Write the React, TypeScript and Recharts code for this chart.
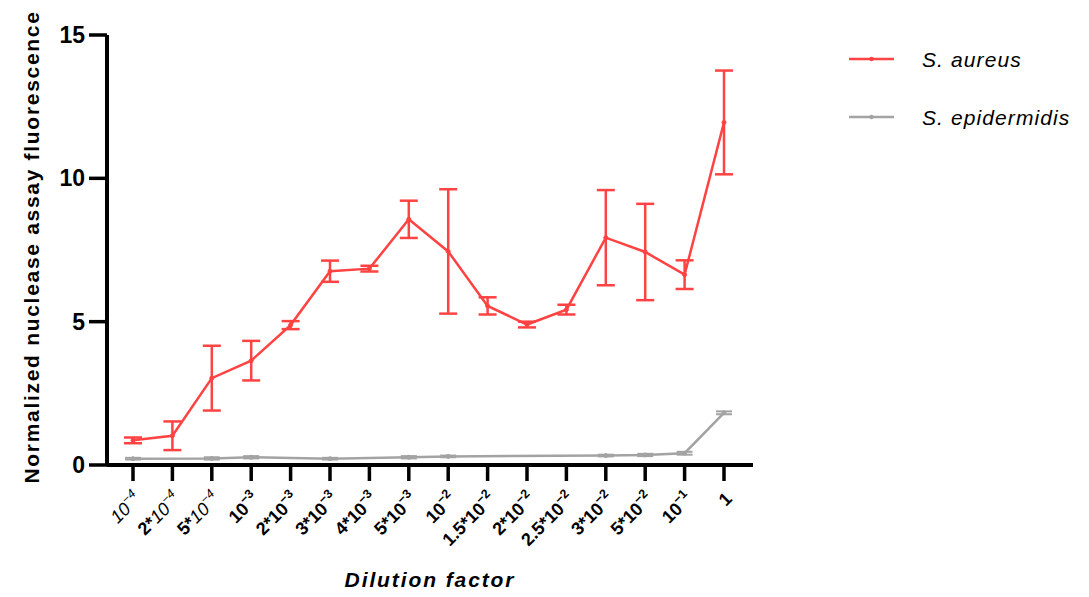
import React from 'react';
import { LineChart, Line, XAxis, YAxis, ErrorBar, Legend } from 'recharts';

const categories = ['10^-4', '2*10^-4', '5*10^-4', '10^-3', '2*10^-3', '3*10^-3', '4*10^-3', '5*10^-3', '10^-2', '1.5*10^-2', '2*10^-2', '2.5*10^-2', '3*10^-2', '5*10^-2', '10^-1', '1'];
const aureus = [0.86, 1.02, 3.03, 3.64, 4.88, 6.76, 6.85, 8.57, 7.45, 5.55, 4.9, 5.42, 7.93, 7.43, 6.64, 11.95];
const aureusErr = [0.1, 0.5, 1.13, 0.69, 0.14, 0.37, 0.1, 0.65, 2.17, 0.3, 0.1, 0.17, 1.66, 1.68, 0.5, 1.81];
const epidermidis = [0.22, null, 0.23, 0.27, null, 0.22, null, 0.27, 0.3, null, null, null, 0.33, 0.35, 0.41, 1.82];
const epidermidisErr = [0.03, null, 0.04, 0.04, null, 0.03, null, 0.04, 0.03, null, null, null, 0.03, 0.04, 0.05, 0.05];
const yTicks = [0, 5, 10, 15];

const RED = '#ff4242';
const GRAY = '#a3a3a3';
const FONT = '"Liberation Sans", Arial, Helvetica, sans-serif';

const data = categories.map((c, i) => ({
  cat: c,
  aureus: aureus[i],
  aureusErr: aureusErr[i],
  epidermidis: epidermidis[i],
  epidermidisErr: epidermidisErr[i],
}));

const XTick = (props: any) => {
  const { x, y, payload } = props;
  const lab: string = payload.value;
  let prefix = '';
  let base = lab;
  let exp = '';
  if (lab.includes('^')) {
    const [left, e] = lab.split('^');
    exp = e.replace('-', '\u2212');
    if (left.includes('*')) {
      const idx = left.indexOf('*');
      prefix = left.slice(0, idx + 1);
      base = left.slice(idx + 1);
    } else {
      base = left;
    }
  }
  const light = lab.endsWith('-4');
  return (
    <g transform={`translate(${x + 9},${y + 17})`}>
      <text
        textAnchor="end"
        transform="rotate(-45)"
        fontFamily={FONT}
        fontSize={18}
        fontWeight="bold"
        fill="#000"
      >
        {prefix && <tspan>{prefix}</tspan>}
        <tspan fontWeight={light ? 'normal' : 'bold'} fontStyle={light ? 'italic' : 'normal'}>{base}</tspan>
        {exp && (
          <tspan dy={-8} fontSize={12.5} fontWeight={light ? 'normal' : 'bold'} fontStyle={light ? 'italic' : 'normal'}>
            {exp}
          </tspan>
        )}
      </text>
    </g>
  );
};

const YTick = (props: any) => {
  const { x, y, payload } = props;
  return (
    <text x={x} y={y + 8} textAnchor="end" fontFamily={FONT} fontSize={23} fontWeight="bold" fill="#000">
      {payload.value}
    </text>
  );
};

const LegendContent = (props: any) => {
  const payload = props.payload || [];
  return (
    <svg width={250} height={110} style={{ overflow: 'visible' }}>
      {payload.map((p: any, i: number) => {
        const cy = 26 + i * 58;
        return (
          <g key={p.value}>
            <line x1={6} x2={51} y1={cy} y2={cy} stroke={p.color} strokeWidth={2.5} />
            <circle cx={28.5} cy={cy} r={2.2} fill={p.color} />
            <text x={79} y={cy + 8} fontFamily={FONT} fontSize={21} fontStyle="italic" letterSpacing={1.1} fill="#000">
              {p.value}
            </text>
          </g>
        );
      })}
    </svg>
  );
};

const YLabel = () => (
  <text
    x={31}
    y={239}
    transform="rotate(-90, 31, 239)"
    textAnchor="middle"
    fontFamily={FONT}
    fontSize={21}
    fontWeight="bold"
    letterSpacing={1.7}
    fill="#000"
  >
    Normalized nuclease assay fluorescence
  </text>
);

const XLabel = () => (
  <text
    x={422}
    y={579}
    textAnchor="middle"
    fontFamily={FONT}
    fontSize={21}
    fontWeight="bold"
    fontStyle="italic"
    letterSpacing={1.9}
    fill="#000"
  >
    Dilution factor
  </text>
);

export default function App() {
  return (
    <div style={{ width: 1081, height: 589, position: 'relative' }}>
      <LineChart
        width={1081}
        height={589}
        data={data}
        margin={{ top: 27, right: 86, bottom: 0, left: 0 }}
      >
        <XAxis
          dataKey="cat"
          type="category"
          interval={0}
          height={132}
          padding={{ left: 26, right: 29 }}
          axisLine={{ stroke: '#000', strokeWidth: 4 }}
          tickLine={{ stroke: '#000', strokeWidth: 3.5 }}
          tickSize={16}
          tick={<XTick />}
          label={<XLabel />}
        />
        <YAxis
          type="number"
          domain={[0, 15]}
          ticks={yTicks}
          width={99}
          axisLine={{ stroke: '#000', strokeWidth: 4 }}
          tickLine={{ stroke: '#000', strokeWidth: 3.5 }}
          tickSize={18}
          tickMargin={4}
          tick={<YTick />}
          label={<YLabel />}
        />
        <Legend
          layout="vertical"
          verticalAlign="top"
          align="right"
          content={<LegendContent />}
          wrapperStyle={{ position: 'absolute', left: 835, top: 25, width: 250 }}
        />
        <Line
          name="S. aureus"
          dataKey="aureus"
          stroke={RED}
          strokeWidth={2.5}
          dot={{ r: 2, fill: RED, stroke: RED, strokeWidth: 1 }}
          isAnimationActive={false}
        >
          <ErrorBar dataKey="aureusErr" direction="y" width={9} stroke={RED} strokeWidth={2.5} isAnimationActive={false} />
        </Line>
        <Line
          name="S. epidermidis"
          dataKey="epidermidis"
          stroke={GRAY}
          strokeWidth={2.5}
          connectNulls
          dot={{ r: 2, fill: GRAY, stroke: GRAY, strokeWidth: 1 }}
          isAnimationActive={false}
        >
          <ErrorBar dataKey="epidermidisErr" direction="y" width={8} stroke={GRAY} strokeWidth={2} isAnimationActive={false} />
        </Line>
      </LineChart>
    </div>
  );
}
